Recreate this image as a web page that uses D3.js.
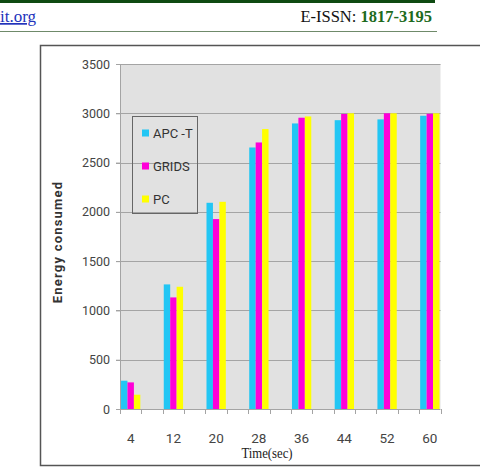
<!DOCTYPE html>
<html>
<head>
<meta charset="utf-8">
<script src="https://cdn.jsdelivr.net/npm/d3@7"></script>
<style>
  html, body { margin: 0; padding: 0; background: #fff; }
  svg { display: block; }
</style>
</head>
<body>
<div id="chart"></div>
<script>
// Time slots on the category axis (only every other one carries data)
const SLOTS  = ['4','8','12','16','20','24','28','32','36','40','44','48','52','56','60'];
const TIMES  = ['4','12','20','28','36','44','52','60'];

const APC_T  = [287, 1264, 2092, 2653, 2897, 2930, 2938, 2975];
const GRIDS  = [270, 1132, 1927, 2704, 2955, 2993, 3000, 2995];
const PC     = [145, 1240, 2102, 2840, 2968, 3000, 3000, 3000];

const SERIES_NAMES = ['APC -T', 'GRIDS', 'PC'];
const Y_TICKS = [0, 500, 1000, 1500, 2000, 2500, 3000, 3500];

const COLORS = ['#22c6f4', '#ff00d8', '#ffff00'];
const FONT   = "Roboto, 'Open Sans', sans-serif";
const SERIF  = "'Liberation Serif', 'DejaVu Serif', serif";

const W = 480, H = 468;
const plot = { left: 120, right: 440.5, top: 64, bottom: 409 };

const svg = d3.select('#chart').append('svg')
  .attr('width', W).attr('height', H);

// --- page header strip (journal) ---
svg.append('rect').attr('x', 0).attr('y', 0).attr('width', 435).attr('height', 3)
  .attr('fill', '#0e4a12');
svg.append('text').attr('x', 0).attr('y', 22)
  .attr('font-family', SERIF).attr('font-size', 17).attr('fill', '#2233bb')
  .attr('text-decoration', 'underline')
  .text('it.org');
const issn = svg.append('text').attr('x', 432).attr('y', 22).attr('text-anchor', 'end')
  .attr('font-family', SERIF).attr('font-size', 16.5).attr('fill', '#111');
issn.append('tspan').text('E-ISSN: ');
issn.append('tspan').attr('fill', '#1d6b1d').attr('font-weight', 'bold').text('1817-3195');
svg.append('line').attr('x1', 0).attr('x2', 437).attr('y1', 31.5).attr('y2', 31.5)
  .attr('stroke', '#6f8a6a').attr('stroke-width', 1.2);

// --- chart frame ---
svg.append('rect').attr('x', 40.5).attr('y', 45.5).attr('width', 460).attr('height', 420)
  .attr('fill', '#fff').attr('stroke', '#555').attr('stroke-width', 1.5);

// scales
const y = d3.scaleLinear().domain([0, 3500]).range([plot.bottom, plot.top]);
const x = d3.scaleBand().domain(SLOTS).range([plot.left, plot.right]).padding(0);
const xs = d3.scaleBand().domain(d3.range(3)).range([0, x.bandwidth()])
  .paddingInner(0).paddingOuter(0.16);

// plot background
svg.append('rect')
  .attr('x', plot.left).attr('y', plot.top)
  .attr('width', plot.right - plot.left).attr('height', plot.bottom - plot.top)
  .attr('fill', '#e1e1e1');

// gridlines
svg.append('g').selectAll('line').data(Y_TICKS.slice(1)).join('line')
  .attr('x1', plot.left - 4).attr('x2', plot.right)
  .attr('y1', d => Math.round(y(d)) + 0.5).attr('y2', d => Math.round(y(d)) + 0.5)
  .attr('stroke', '#a4a4a4').attr('stroke-width', 1);

// y axis
const yAxis = svg.append('g')
  .attr('transform', `translate(${plot.left},0)`)
  .call(d3.axisLeft(y).tickValues(Y_TICKS).tickFormat(d3.format('d')).tickSize(4).tickPadding(6));
yAxis.select('.domain').attr('stroke', '#a4a4a4');
yAxis.selectAll('.tick line').attr('stroke', '#a4a4a4');
yAxis.selectAll('text').attr('font-family', FONT).attr('font-size', 12.5).attr('fill', '#444');

// bars
const rows = TIMES.map((t, i) => ({ t, v: [APC_T[i], GRIDS[i], PC[i]] }));
const groups = svg.append('g').selectAll('g').data(rows).join('g')
  .attr('transform', d => `translate(${x(d.t)},0)`);
groups.selectAll('rect').data(d => d.v).join('rect')
  .attr('x', (d, i) => xs(i))
  .attr('width', xs.bandwidth())
  .attr('y', d => y(d))
  .attr('height', d => y(0) - y(d))
  .attr('fill', (d, i) => COLORS[i]);

// x axis line and boundary ticks
svg.append('line')
  .attr('x1', plot.left).attr('x2', plot.right)
  .attr('y1', y(0) + 0.5).attr('y2', y(0) + 0.5)
  .attr('stroke', '#a4a4a4');
const bounds = SLOTS.map(s => x(s)).concat([x(SLOTS[SLOTS.length - 1]) + x.bandwidth()]);
svg.append('g').selectAll('line').data(bounds).join('line')
  .attr('x1', d => Math.round(d) + 0.5).attr('x2', d => Math.round(d) + 0.5)
  .attr('y1', y(0)).attr('y2', y(0) + 5)
  .attr('stroke', '#a4a4a4');

svg.append('g').selectAll('text').data(TIMES).join('text')
  .attr('x', d => x(d) + x.bandwidth() / 2)
  .attr('y', 443)
  .attr('text-anchor', 'middle')
  .attr('font-family', FONT).attr('font-size', 13.5).attr('fill', '#444')
  .text(d => d);

// axis titles
svg.append('text')
  .attr('transform', 'translate(62,242) rotate(-90)')
  .attr('text-anchor', 'middle')
  .attr('font-family', FONT).attr('font-size', 13).attr('font-weight', 'bold')
  .attr('letter-spacing', 1.2).attr('fill', '#333')
  .text('Energy consumed');
svg.append('text')
  .attr('x', 267).attr('y', 458)
  .attr('text-anchor', 'middle')
  .attr('font-family', SERIF).attr('font-size', 15).attr('fill', '#222')
  .attr('transform', 'translate(267,0) scale(0.85,1) translate(-267,0)')
  .text('Time(sec)');

// legend
const lg = svg.append('g');
lg.append('rect').attr('x', 132.5).attr('y', 116.5).attr('width', 65).attr('height', 97)
  .attr('fill', 'none').attr('stroke', '#666').attr('stroke-width', 1);
const items = lg.selectAll('g').data(SERIES_NAMES).join('g')
  .attr('transform', (d, i) => `translate(142,${133 + i * 33})`);
items.append('rect').attr('x', 0).attr('y', -3.5).attr('width', 7).attr('height', 7)
  .attr('fill', (d, i) => COLORS[i]);
items.append('text').attr('x', 11).attr('y', 0).attr('dy', '0.35em')
  .attr('font-family', FONT).attr('font-size', 13).attr('fill', '#333')
  .text(d => d);
</script>
</body>
</html>
